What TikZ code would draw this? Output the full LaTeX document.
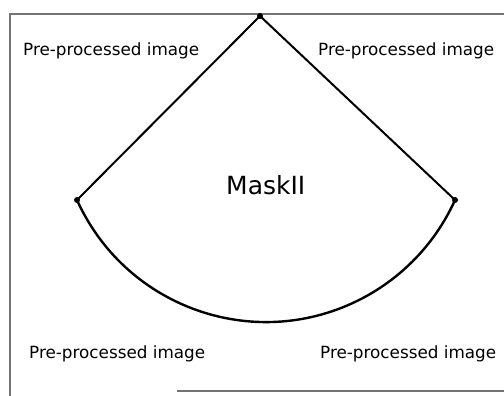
\documentclass[tikz,border=0pt]{standalone}
\usepackage{fontspec}
\setmainfont{DejaVu Sans}
\begin{document}
\begin{tikzpicture}[x=1pt,y=1pt,
  dot/.style={circle,fill=black,inner sep=0pt,minimum size=6pt},
  label/.style={anchor=base west,inner sep=0pt,font=\fontsize{16.8}{19}\selectfont},
  edge/.style={line width=2pt,black},
  frame/.style={line width=1.2pt,black!55}]
\useasboundingbox (0,0) rectangle (504,396);
\fill[white] (0,0) rectangle (504,396);

% outer frame
\draw[frame] (504,382) -- (10,382) -- (10,0);
\draw[frame] (177,5) -- (504,5);

% sector corner points
\node[dot] (apex) at (260,380) {};
\node[dot] (left) at (77,196) {};
\node[dot] (right) at (455,196) {};

% straight sides and curved bottom
\draw[edge,line join=round] (left.center) -- (apex.center) -- (right.center);
\draw[edge,line width=2.4pt] (left.center) arc[start angle=204.3,end angle=335.7,radius=207.4pt];

% labels
\node[anchor=base west,inner sep=0pt,font=\fontsize{25}{28}\selectfont] (mask) at (226,201) {MaskII};
\node[label] (tl) at (23,340) {Pre-processed image};
\node[label] (tr) at (318,340) {Pre-processed image};
\node[label] (bl) at (29,37) {Pre-processed image};
\node[label] (br) at (320,37) {Pre-processed image};
\end{tikzpicture}
\end{document}
